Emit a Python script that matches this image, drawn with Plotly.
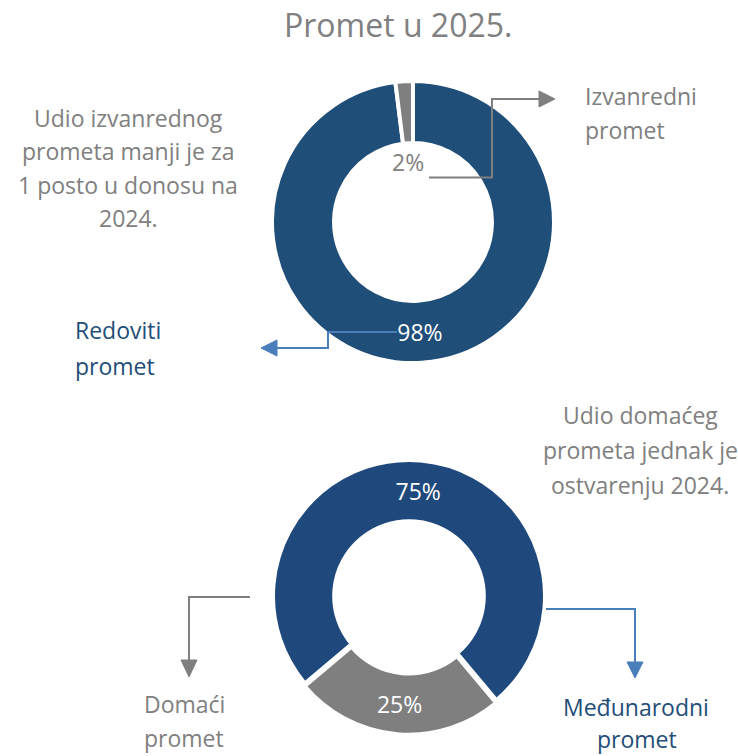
import plotly.graph_objects as go

W, H = 738, 756

# ---- data ----
top_labels = ["Redoviti promet", "Izvanredni promet"]
top_values = [98, 2]
bottom_labels = ["Domaći promet", "Međunarodni promet"]
bottom_values = [25, 75]

title_text = "Promet u 2025."
note_top = ["Udio izvanrednog", "prometa manji je za", "1 posto u donosu na", "2024."]
note_bottom = ["Udio domaćeg", "prometa jednak je", "ostvarenju 2024."]

NAVY = "#1F4E79"
NAVY2 = "#1F497D"
GREY = "#7F7F7F"
GREY_TXT = "#808080"
BLUE_LINE = "#4A7EBB"
FONT = "Open Sans"
BODY = 23


def px(x):
    return x / W


def py(y):
    return 1 - y / H


def dom(cx, cy, half):
    return dict(x=[px(cx - half), px(cx + half)], y=[py(cy + half), py(cy - half)])


fig = go.Figure()

fig.add_trace(go.Pie(
    labels=top_labels, values=top_values,
    text=[f"{top_values[0]}%", ""], textinfo="text", textposition="inside",
    insidetextorientation="horizontal",
    insidetextfont=dict(color="white", size=23, family=FONT),
    marker=dict(colors=[NAVY, GREY], line=dict(color="white", width=4)),
    hole=0.56, sort=False, direction="clockwise", rotation=0,
    domain=dom(413, 222, 141), hoverinfo="label+percent",
))

fig.add_trace(go.Pie(
    labels=bottom_labels, values=bottom_values,
    text=[f"{v}%" for v in bottom_values], textinfo="text", textposition="inside",
    insidetextorientation="horizontal",
    insidetextfont=dict(color="white", size=23, family=FONT),
    marker=dict(colors=[GREY, NAVY2], line=dict(color="white", width=4)),
    hole=0.55, sort=False, direction="clockwise", rotation=140,
    pull=[0.02, 0],
    domain=dom(409, 596, 136 * 1.02), hoverinfo="label+percent",
))

ann = []


def text(x, y, s, color, size=BODY, xanchor="center"):
    ann.append(dict(x=px(x), y=py(y), xref="paper", yref="paper", text=s,
                    showarrow=False, xanchor=xanchor, yanchor="middle",
                    font=dict(family=FONT, size=size, color=color)))


text(398, 24, title_text, GREY_TXT, size=32)

for i, line in enumerate(note_top):
    text(128, 118 + i * 33.5, line, GREY_TXT)
for i, line in enumerate(note_bottom):
    text(640, 415 + i * 35, line, GREY_TXT)

text(408, 162, f"{top_values[1]}%", GREY_TXT, size=23)

text(583, 96, "Izvanredni", GREY_TXT, xanchor="left")
text(583, 130, "promet", GREY_TXT, xanchor="left")
text(73, 330, "Redoviti", NAVY, xanchor="left")
text(73, 366, "promet", NAVY, xanchor="left")
text(184, 704, "Domaći", GREY_TXT)
text(184, 738, "promet", GREY_TXT)
text(636, 707, "Međunarodni", NAVY)
text(637, 739, "promet", NAVY)

shapes = []


def poly(points, color, closed=False):
    d = "M " + " L ".join(f"{px(x):.5f},{py(y):.5f}" for x, y in points)
    if closed:
        d += " Z"
        shapes.append(dict(type="path", xref="paper", yref="paper", path=d,
                           fillcolor=color, line=dict(color=color, width=1)))
    else:
        shapes.append(dict(type="path", xref="paper", yref="paper", path=d,
                           line=dict(color=color, width=2)))


# top grey connector (2% -> Izvanredni promet)
poly([(429, 177.5), (492, 177.5), (492, 99), (540, 99)], GREY)
poly([(539, 91), (555, 99), (539, 107)], GREY, closed=True)

# Redoviti connector
poly([(397, 332), (328, 332), (328, 348), (276, 348)], BLUE_LINE)
poly([(277, 340), (261, 348), (277, 356)], BLUE_LINE, closed=True)

# Domaći connector
poly([(250, 597), (189, 597), (189, 661)], GREY)
poly([(181, 660), (189, 677), (197, 660)], GREY, closed=True)

# Međunarodni connector
poly([(546, 609), (635, 609), (635, 663)], BLUE_LINE)
poly([(627, 662), (635, 678), (643, 662)], BLUE_LINE, closed=True)

fig.update_layout(
    width=W, height=H, margin=dict(l=0, r=0, t=0, b=0),
    paper_bgcolor="white", plot_bgcolor="white", showlegend=False,
    annotations=ann, shapes=shapes,
)

fig.write_html("out.html", config={"displayModeBar": False},
               post_script="document.body.style.margin='0';")
